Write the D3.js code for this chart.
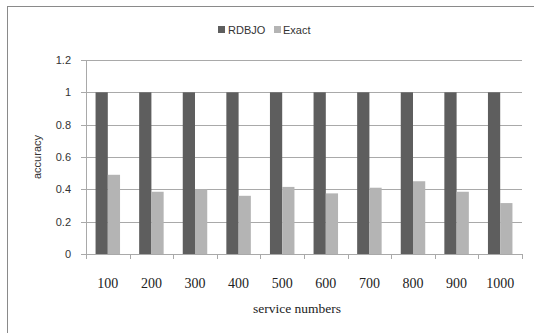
<!DOCTYPE html>
<html><head><meta charset="utf-8">
<script src="https://cdn.jsdelivr.net/npm/d3@7"></script>
<style>body{margin:0;background:#fff}svg{display:block}</style>
</head><body>
<svg id="c" width="534" height="333"></svg>
<script>
const categories = ["100","200","300","400","500","600","700","800","900","1000"];
const rdbjo = [1,1,1,1,1,1,1,1,1,1];
const exact = [0.49,0.385,0.40,0.36,0.415,0.375,0.41,0.45,0.385,0.315];
const seriesNames = ["RDBJO","Exact"];
const yTicks = [0,0.2,0.4,0.6,0.8,1,1.2];
const yTickLabels = ["0","0.2","0.4","0.6","0.8","1","1.2"];

const svg = d3.select("#c");
const colors = ["#5e5e5e","#b4b4b4"];
const m = {l:86, r:522, t:60, b:254};

svg.append("rect").attr("x",7.5).attr("y",6.5).attr("width",540).attr("height",340)
  .attr("fill","#fff").attr("stroke","#8a8a8a").attr("stroke-width",1);

const x = d3.scaleBand().domain(categories).range([m.l,m.r]);
const y = d3.scaleLinear().domain([0,1.2]).range([m.b,m.t]);
const sub = d3.scaleBand().domain(seriesNames).range([0,x.bandwidth()]).paddingOuter(0.78).paddingInner(0);

svg.append("g").selectAll("line").data(yTicks).join("line")
  .attr("x1",m.l-5).attr("x2",m.r).attr("y1",d=>Math.round(y(d))+0.5).attr("y2",d=>Math.round(y(d))+0.5)
  .attr("stroke","#a9a9a9").attr("stroke-width",1);

svg.append("line").attr("x1",m.l+0.5).attr("x2",m.l+0.5).attr("y1",m.t).attr("y2",m.b)
  .attr("stroke","#a9a9a9");

const data = [rdbjo, exact];
data.forEach((vals,si)=>{
  svg.append("g").selectAll("rect").data(categories).join("rect")
    .attr("x",c=>x(c)+sub(seriesNames[si]))
    .attr("width",sub.bandwidth())
    .attr("y",(c,i)=>y(vals[i]))
    .attr("height",(c,i)=>y(0)-y(vals[i]))
    .attr("fill",colors[si]);
});

const xt = categories.map(c=>x(c)).concat([m.r]);
svg.append("g").selectAll("line").data(xt).join("line")
  .attr("x1",d=>Math.round(d)+0.5).attr("x2",d=>Math.round(d)+0.5)
  .attr("y1",m.b).attr("y2",m.b+5).attr("stroke","#a9a9a9");

svg.append("g").selectAll("text").data(yTicks).join("text")
  .attr("x",m.l-15).attr("y",d=>y(d)).attr("dy","0.35em").attr("text-anchor","end")
  .attr("font-family","Liberation Sans, Arial, sans-serif").attr("font-size",11).attr("fill","#333")
  .text((d,i)=>yTickLabels[i]);

svg.append("g").selectAll("text").data(categories).join("text")
  .attr("x",c=>x(c)+x.bandwidth()/2).attr("y",283).attr("dy","0.35em").attr("text-anchor","middle")
  .attr("font-family","Liberation Serif, Times New Roman, serif").attr("font-size",14).attr("fill","#222")
  .text(c=>c);

svg.append("text").attr("x",297).attr("y",308).attr("dy","0.35em").attr("text-anchor","middle")
  .attr("font-family","Liberation Serif, Times New Roman, serif").attr("font-size",13.5).attr("fill","#222")
  .text("service numbers");
svg.append("text").attr("transform","translate(37,157) rotate(-90)").attr("dy","0.35em").attr("text-anchor","middle")
  .attr("font-family","Liberation Sans, Arial, sans-serif").attr("font-size",11).attr("fill","#333")
  .text("accuracy");

const leg = [{x:218,tx:228},{x:274,tx:283}];
seriesNames.forEach((n,i)=>{
  svg.append("rect").attr("x",leg[i].x).attr("y",26).attr("width",7).attr("height",7).attr("fill",colors[i]);
  svg.append("text").attr("x",leg[i].tx).attr("y",30).attr("dy","0.35em")
    .attr("font-family","Liberation Sans, Arial, sans-serif").attr("font-size",11).attr("fill","#333").text(n);
});
</script>
</body></html>
